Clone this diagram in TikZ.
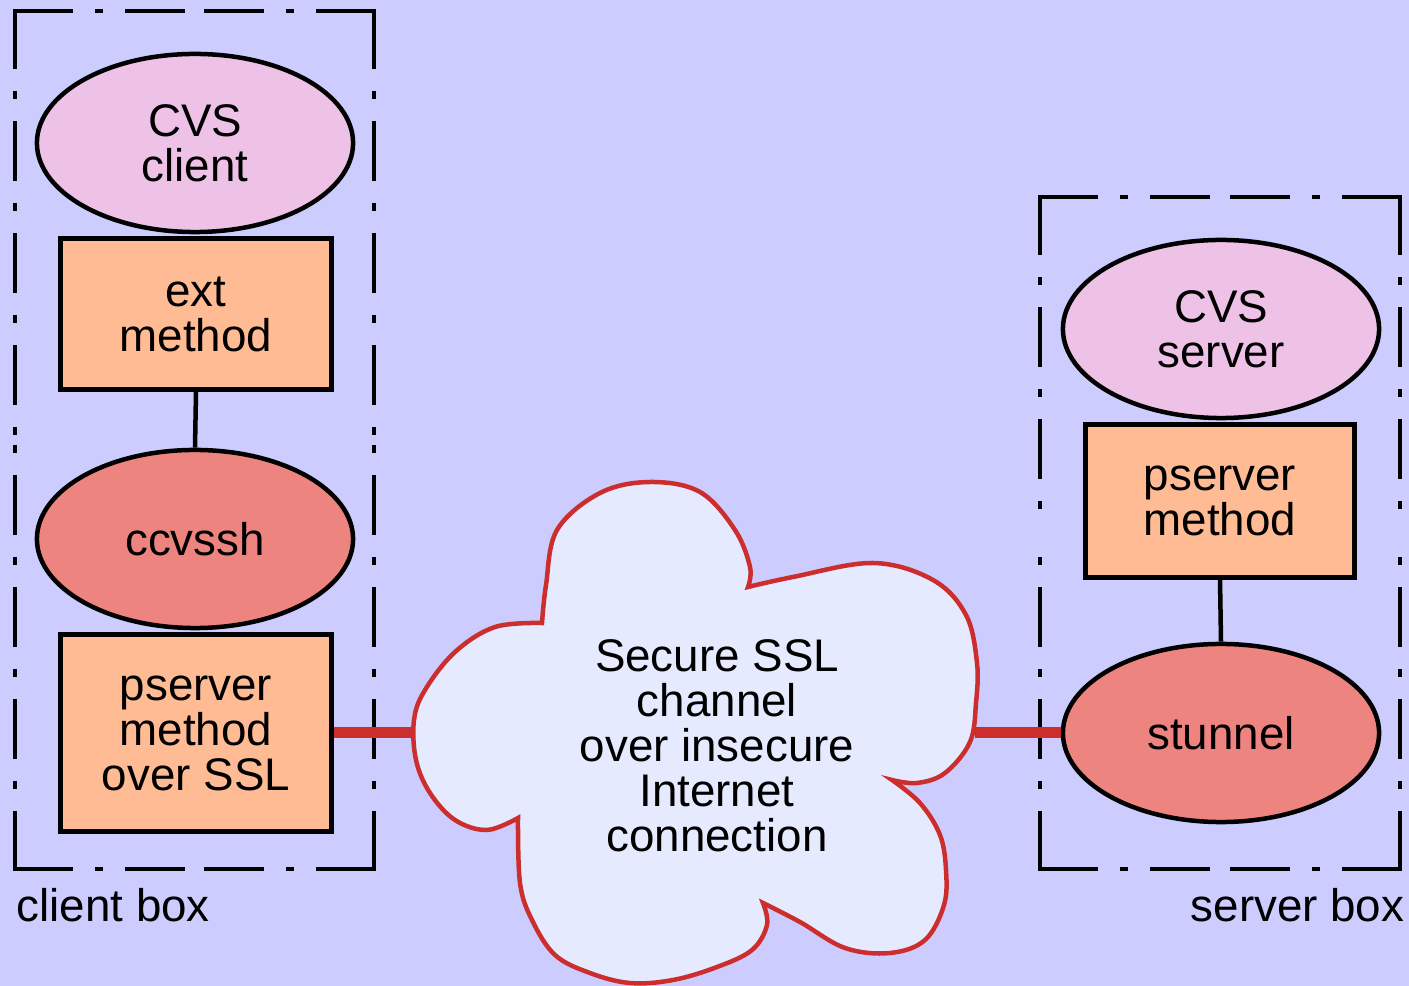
\documentclass[tikz,border=0pt]{standalone}
\usepackage{fontspec}
\setmainfont{Liberation Sans}
\usepackage{tikz}
\usetikzlibrary{shapes.geometric, positioning, calc}
\definecolor{pagelilac}{RGB}{204,204,255}
\definecolor{cvspink}{RGB}{237,194,230}
\definecolor{methodorange}{RGB}{255,187,148}
\definecolor{tunnelred}{RGB}{238,132,128}
\definecolor{cloudfill}{RGB}{230,234,255}
\definecolor{sslred}{RGB}{204,46,46}

\newcommand{\diagfont}{\fontsize{13pt}{12.8pt}\selectfont}

\tikzset{
    cvsprog/.style={ellipse, draw, line width=0.045cm, fill=cvspink, minimum width=3.16cm,
        minimum height=1.78cm, inner sep=0pt, align=center, font=\diagfont},
    tunnelprog/.style={cvsprog, fill=tunnelred},
    methodbox/.style={rectangle, draw, line width=0.05cm, fill=methodorange, minimum width=2.7cm,
        inner sep=0pt, align=center, font=\diagfont},
    hostbox/.style={draw, line width=0.045cm, line cap=rect,
        dash pattern=on 0.56cm off 0.26cm on 0.04cm off 0.26cm},
    plainlink/.style={draw, line width=0.045cm},
    ssllink/.style={draw=sslred, line width=0.11cm},
    cloudshape/.style={draw=sslred, fill=cloudfill, line width=0.045cm},
}

\begin{document}
\begin{tikzpicture}[x=0.01cm, y=-0.01cm]
    \useasboundingbox (0,0) rectangle (1409,986);
    \fill[pagelilac] (0,0) rectangle (1409,986);

    % the two machines, dashed from every corner inwards
    \coordinate (ctl) at (15,11);   \coordinate (ctr) at (374,11);
    \coordinate (cbr) at (374,869); \coordinate (cbl) at (15,869);
    \coordinate (stl) at (1040,197); \coordinate (str) at (1400,197);
    \coordinate (sbr) at (1400,869); \coordinate (sbl) at (1040,869);
    \foreach \b in {c,s} {
        \foreach \p/\q in {tl/tr, tr/br, br/bl, bl/tl} {
            \draw[hostbox] (\b\p) -- ($(\b\p)!0.5!(\b\q)$);
            \draw[hostbox] (\b\q) -- ($(\b\q)!0.5!(\b\p)$);
        }
    }
    \node[anchor=base west, font=\diagfont, inner sep=0pt] (clientlbl) at (16,922) {client box};
    \node[anchor=base east, font=\diagfont, inner sep=0pt] (serverlbl) at (1405,922) {server box};

    % client side stack
    \node[cvsprog] (cvsclient) at (195,143) {CVS\\client};
    \node[methodbox, minimum height=1.51cm] (extmethod) at (196,314) {ext\\method};
    \node[tunnelprog] (ccvssh) at (195,539) {ccvssh};
    \node[methodbox, minimum height=1.96cm] (sslmethod) at (196,733) {pserver\\method\\over SSL};
    \draw[plainlink] (extmethod.south) -- (ccvssh.north);

    % server side stack
    \node[cvsprog] (cvsserver) at (1221,329) {CVS\\server};
    \node[methodbox, minimum width=2.68cm, minimum height=1.52cm] (pservermethod) at (1220,501) {pserver\\method};
    \node[tunnelprog] (stunnel) at (1221,733) {stunnel};
    \draw[plainlink] (pservermethod.south) -- (stunnel.north);

    % the internet cloud
    \coordinate (cloudwest) at (415,733);
    \coordinate (cloudeast) at (975,733);
    \draw[ssllink] (sslmethod.east) -- (cloudwest);
    \draw[ssllink] (cloudeast) -- (stunnel.west);
    \draw[cloudshape] (542,623)
        -- plot[smooth, tension=0.6] coordinates {(542,623) (546,585) (557,530) (600,493) (650,482) (700,492) (735,530) (750,567) (748,587)}
        -- plot[smooth, tension=0.6] coordinates {(748,587) (793,577) (873,563) (933,580) (966,615) (977,663) (976,703) (970,742) (945,773) (917,783) (892,780)}
        -- plot[smooth, tension=0.6] coordinates {(892,780) (920,803) (940,835) (946,870) (944,905) (925,940) (890,953) (845,948) (800,922) (763,903)}
        -- plot[smooth, tension=0.6] coordinates {(763,903) (767,925) (752,950) (717,967) (673,980) (630,983) (590,973) (555,955) (532,920) (520,883) (518,818)}
        -- plot[smooth, tension=0.6] coordinates {(518,818) (487,830) (455,820) (430,793) (416,760) (414,720) (425,690) (455,652) (495,627) (542,623)}
        -- cycle;
    \node[font=\diagfont, align=center, inner sep=0pt] (cloud) at (717,746)
        {Secure SSL\\channel\\over insecure\\Internet\\connection};
\end{tikzpicture}
\end{document}
